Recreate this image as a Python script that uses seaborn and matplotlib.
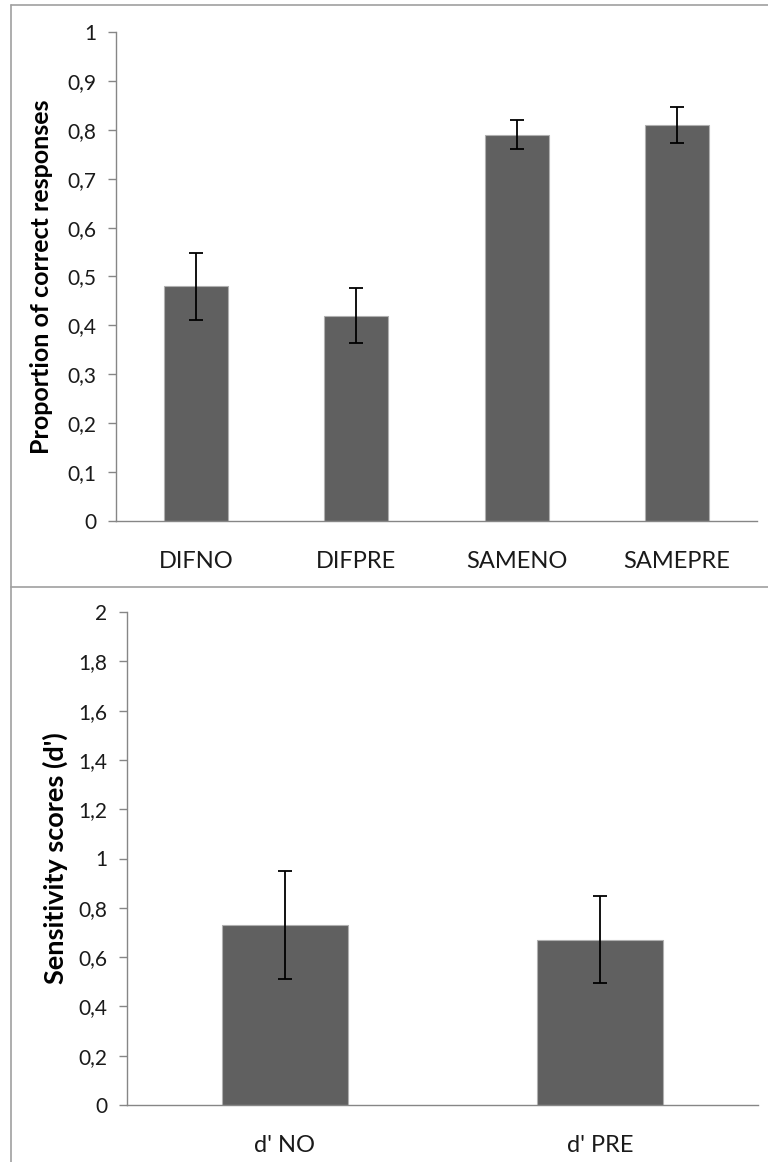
import numpy as np
import pandas as pd
import matplotlib
matplotlib.use("Agg")
import matplotlib.pyplot as plt
from matplotlib.ticker import FuncFormatter, MultipleLocator
from matplotlib.lines import Line2D
import seaborn as sns

# dati pannello superiore
condizioni = ["DIFNO", "DIFPRE", "SAMENO", "SAMEPRE"]
prop_corrette = [0.48, 0.42, 0.79, 0.81]
err_prop = [0.068, 0.057, 0.030, 0.037]

# dati pannello inferiore
dprime_lab = ["d' NO", "d' PRE"]
dprime_val = [0.73, 0.67]
err_dprime = [0.22, 0.177]

sns.set_style("white")
plt.rcParams["font.family"] = ["Lato", "DejaVu Sans"]

W, H = 768, 1162
fig = plt.figure(figsize=(W / 100, H / 100), dpi=100)

grigio = "#868686"
barra = "#606060"

def virgola(v, pos):
    s = f"{v:.1f}".rstrip("0").rstrip(".")
    return s.replace(".", ",")

def pannello(rect, cats, vals, errs, ymax, step, ylabel, capsize, lsize, lx):
    ax = fig.add_axes(rect)
    df = pd.DataFrame({"cat": cats, "val": vals})
    sns.barplot(data=df, x="cat", y="val", color=barra, width=0.4,
                edgecolor="#b0b0b0", linewidth=0.8, saturation=1, ax=ax)
    xs = ax.get_xticks()
    ax.errorbar(xs, vals, yerr=errs, fmt="none", ecolor="black",
                elinewidth=1.3, capsize=capsize, capthick=1.3)
    ax.set_ylim(0, ymax)
    ax.set_xlim(-0.5, len(cats) - 0.5)
    ax.yaxis.set_major_locator(MultipleLocator(step))
    ax.yaxis.set_major_formatter(FuncFormatter(virgola))
    sns.despine(ax=ax)
    for s in ["left", "bottom"]:
        ax.spines[s].set_color(grigio)
        ax.spines[s].set_linewidth(1.0)
    ax.tick_params(axis="y", left=True, length=6, width=1, color=grigio,
                   labelsize=15, pad=8, labelcolor="#1a1a1a")
    ax.tick_params(axis="x", bottom=False, labelsize=17, pad=18,
                   labelcolor="#1a1a1a")
    ax.set_xlabel("")
    ax.set_ylabel("")
    # etichetta asse y centrata a mano (px della figura)
    fig.text(lx / W, rect[1] + rect[3] / 2, ylabel, rotation=90,
             ha="center", va="center", fontsize=lsize, fontweight="bold",
             color="black")
    return ax

ax1 = pannello([116 / W, 1 - 521 / H, 641 / W, 489 / H], condizioni,
               prop_corrette, err_prop, 1, 0.1,
               "Proportion of correct responses", 5, 18, 42)
ax2 = pannello([127 / W, 1 - 1105 / H, 631 / W, 493 / H], dprime_lab,
               dprime_val, err_dprime, 2, 0.2,
               "Sensitivity scores (d')", 5, 19.5, 55)

# cornici stile Excel
bordo = dict(color="#a0a0a0", linewidth=1.2, transform=fig.transFigure)
fig.add_artist(Line2D([11 / W, 1], [1 - 5 / H, 1 - 5 / H], **bordo))
fig.add_artist(Line2D([11 / W, 11 / W], [0, 1 - 5 / H], **bordo))
fig.add_artist(Line2D([11 / W, 1], [1 - 587 / H, 1 - 587 / H], **bordo))

fig.savefig("out.png", dpi=100)
